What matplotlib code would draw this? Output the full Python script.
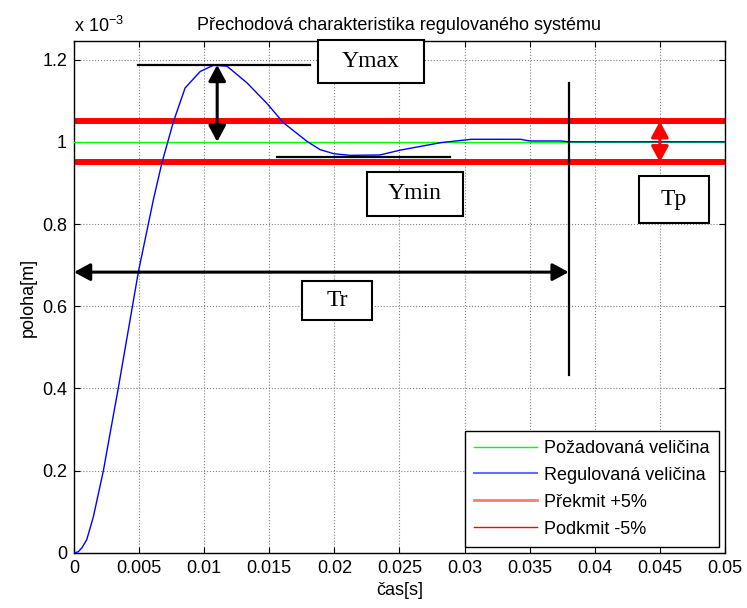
import numpy as np
import matplotlib.pyplot as plt
from matplotlib.lines import Line2D
from matplotlib.patches import Rectangle

plt.rcParams['font.family'] = ['Liberation Sans', 'DejaVu Sans']
plt.rcParams['mathtext.default'] = 'regular'

# odezva systemu (cas [s], poloha [1e-3 m])
t_reg = [0, 0.00033, 0.0006, 0.00098, 0.00149, 0.00226, 0.00277, 0.0034,
         0.00495, 0.0061, 0.00675, 0.00764, 0.00854, 0.0097, 0.0107, 0.01175,
         0.0133, 0.0148, 0.0161, 0.0179, 0.0189, 0.01995, 0.0212, 0.0235,
         0.0251, 0.0282, 0.0305, 0.0343, 0.035, 0.0374, 0.038, 0.05]
y_reg = [0, 0.003, 0.012, 0.032, 0.088, 0.20, 0.29, 0.40,
         0.684, 0.859, 0.948, 1.049, 1.131, 1.171, 1.186, 1.184,
         1.143, 1.094, 1.046, 1.001, 0.981, 0.971, 0.967, 0.968,
         0.98, 0.998, 1.006, 1.006, 1.002, 1.002, 1.0, 1.0]

t_range = [0, 0.05]
y_pozad = 1.0
y_horni = 1.05
y_dolni = 0.95

y_max = 1.187
t_max = 0.011
y_min = 0.964
t_reg_end = 0.038

x_ticks = [0, 0.005, 0.01, 0.015, 0.02, 0.025, 0.03, 0.035, 0.04, 0.045, 0.05]
y_ticks = [0, 0.2, 0.4, 0.6, 0.8, 1.0, 1.2]

fs = 13

fig = plt.figure(figsize=(7.47, 6.08), dpi=100)
ax = fig.add_axes([0.099, 0.0905, 0.8715, 0.842])

ax.plot(t_range, [y_pozad, y_pozad], color='#00ff00', lw=1.0, zorder=3)
ax.plot(t_reg, y_reg, color='blue', lw=1.0, zorder=4)
ax.plot(t_range, [y_horni, y_horni], color='red', lw=4.3, zorder=2)
ax.plot(t_range, [y_dolni, y_dolni], color='red', lw=4.3, zorder=2)

# popisky
ax.plot([0.00492, 0.01815], [y_max, y_max], color='black', lw=1.6, zorder=5)
ax.plot([0.0156, 0.0289], [y_min, y_min], color='black', lw=1.6, zorder=5)
ax.plot([t_reg_end, t_reg_end], [0.433, 1.144], color='black', lw=1.6, zorder=5)

arr = dict(arrowstyle='<|-|>,head_length=0.65,head_width=0.35', lw=2.2,
           shrinkA=0, shrinkB=0, mutation_scale=15)
ax.annotate('', xy=(t_max, y_max), xytext=(t_max, y_pozad),
            arrowprops=dict(color='black', **arr), zorder=6)
ax.annotate('', xy=(0, 0.683), xytext=(t_reg_end, 0.683),
            arrowprops=dict(color='black', **arr), zorder=6)
ax.annotate('', xy=(0.045, y_horni), xytext=(0.045, y_dolni),
            arrowprops=dict(color='red', **arr), zorder=6)

# textova pole (x0, x1, y0, y1)
boxes = [('Ymax', 0.01877, 0.02685, 1.1436, 1.248),
         ('Ymin', 0.02254, 0.02985, 0.820, 0.927),
         ('Tr', 0.01754, 0.02292, 0.567, 0.662),
         ('Tp', 0.04338, 0.04877, 0.803, 0.917)]
for txt, x0, x1, y0, y1 in boxes:
    ax.add_patch(Rectangle((x0, y0), x1 - x0, y1 - y0, fc='white', ec='black',
                           lw=1.5, zorder=7, clip_on=False))
    ax.text((x0 + x1) / 2, (y0 + y1) / 2, txt, family=['Liberation Serif', 'DejaVu Serif'],
            fontsize=17, ha='center', va='center', zorder=8)

ax.set_xlim(0, 0.05)
ax.set_ylim(0, 1.245)
ax.set_xticks(x_ticks)
ax.set_xticklabels(['%g' % v for v in x_ticks])
ax.set_yticks(y_ticks)
ax.set_yticklabels(['%g' % v for v in y_ticks])
ax.tick_params(direction='in', top=True, right=True, length=4, labelsize=fs, pad=5)
ax.grid(True, linestyle=':', color='#808080', lw=0.8)
for s in ax.spines.values():
    s.set_linewidth(1.0)

ax.set_title('Přechodová charakteristika regulovaného systému', fontsize=fs, pad=8)
ax.set_xlabel('čas[s]', fontsize=fs, labelpad=4)
ax.set_ylabel('poloha[m]', fontsize=fs, labelpad=4)
ax.text(0, 1.01, 'x 10$^{-3}$', transform=ax.transAxes, fontsize=fs,
        ha='left', va='bottom')

handles = [Line2D([], [], color='#00ff00', lw=1.0),
           Line2D([], [], color='#6a6aff', lw=1.5),
           Line2D([], [], color='#ff7a7a', lw=2.0),
           Line2D([], [], color='red', lw=1.0)]
labels = ['Požadovaná veličina', 'Regulovaná veličina', 'Překmit +5%', 'Podkmit -5%']
leg = ax.legend(handles, labels, loc='lower right', fontsize=fs, fancybox=False,
                framealpha=1, edgecolor='black', borderaxespad=0.35,
                handlelength=3.5, labelspacing=0.55, handletextpad=0.4,
                borderpad=0.5)
leg.get_frame().set_linewidth(1.0)
leg.set_zorder(10)

fig.savefig('out.png', dpi=100)
